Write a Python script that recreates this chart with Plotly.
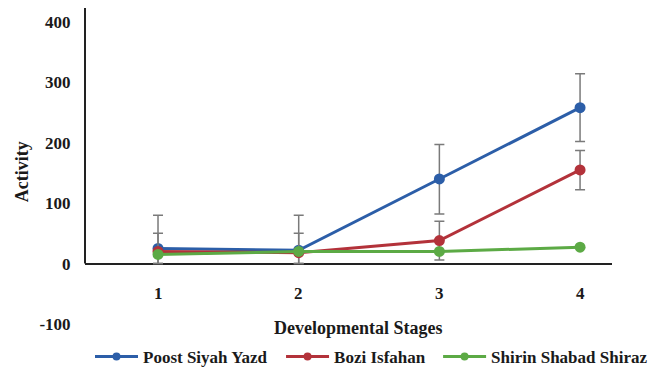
import plotly.graph_objects as go

stages = [1, 2, 3, 4]
stage_labels = ["1", "2", "3", "4"]
series_names = ["Poost Siyah Yazd", "Bozi Isfahan", "Shirin Shabad Shiraz"]
poost = [25, 22, 140, 258]
bozi = [20, 18, 38, 155]
shirin = [15, 20, 20, 27]
poost_err_plus = [55, 58, 57, 56]
poost_err_minus = [25, 22, 58, 56]
bozi_err_plus = [30, 32, 32, 32]
bozi_err_minus = [20, 18, 32, 33]
shirin_err = [0, 0, 0, 0]
y_ticks = [-100, 0, 100, 200, 300, 400]

colors = ["#2c5ea8", "#b3323a", "#5caa45"]
font_fam = "Liberation Serif"
fs = 17
legend_ids = ["legend", "legend2", "legend3"]
legend_x = [0.0095, 0.372, 0.670]

fig = go.Figure()
data = [
    (poost, poost_err_plus, poost_err_minus),
    (bozi, bozi_err_plus, bozi_err_minus),
    (shirin, shirin_err, shirin_err),
]
for name, (vals, ep, em), c in zip(series_names, data, colors):
    fig.add_trace(go.Scatter(
        x=stages, y=vals, name=name, mode="lines+markers", showlegend=False,
        line=dict(color=c, width=3),
        marker=dict(color=c, size=11),
        error_y=dict(type="data", array=ep, arrayminus=em, color="#7a7a7a",
                     thickness=1.5, width=5, visible=True),
    ))

# legend-only entries (smaller markers, like the reference legend)
for name, c, lid in zip(series_names, colors, legend_ids):
    fig.add_trace(go.Scatter(
        x=[None], y=[None], name="<b>%s</b>" % name, mode="lines+markers",
        line=dict(color=c, width=3), marker=dict(color=c, size=8),
        showlegend=True, legend=lid,
    ))

for xv, lab in zip(stages, stage_labels):
    fig.add_annotation(x=xv, y=-50, xref="x", yref="y", text="<b>%s</b>" % lab,
                       showarrow=False, font=dict(family=font_fam, size=fs, color="#1a1a1a"))

fig.add_annotation(x=0.518, xref="paper", y=-107, yref="y", yanchor="middle", xanchor="center",
                   text="<b>Developmental Stages</b>", showarrow=False,
                   font=dict(family=font_fam, size=18, color="#1a1a1a"))
fig.add_annotation(x=-0.1195, xref="paper", y=0.49, yref="paper", textangle=-90,
                   xanchor="center", yanchor="middle",
                   text="<b>Activity</b>", showarrow=False,
                   font=dict(family=font_fam, size=18, color="#1a1a1a"))

fig.add_shape(type="line", xref="paper", yref="y", x0=0, x1=0, y0=0, y1=430,
              line=dict(color="#222", width=2))

leg_common = dict(orientation="h", xanchor="left", y=-0.084, yanchor="middle",
                  font=dict(family=font_fam, size=fs, color="#1a1a1a"),
                  itemwidth=43, bgcolor="rgba(0,0,0,0)")

fig.update_layout(
    width=653, height=365,
    margin=dict(l=77, r=49, t=0, b=43, autoexpand=False),
    paper_bgcolor="white", plot_bgcolor="white",
    showlegend=True,
    legend=dict(x=legend_x[0], **leg_common),
    legend2=dict(x=legend_x[1], **leg_common),
    legend3=dict(x=legend_x[2], **leg_common),
    xaxis=dict(range=[0.481, 4.227], showgrid=False, zeroline=False, showline=False,
               showticklabels=False, ticks="", automargin=False),
    yaxis=dict(range=[-110, 423], tickvals=y_ticks, ticktext=["<b>%d</b>" % v for v in y_ticks],
               showgrid=False, zeroline=True, zerolinecolor="#222", zerolinewidth=2,
               showline=False, ticks="outside", ticklen=10, tickcolor="rgba(0,0,0,0)",
               automargin=False,
               tickfont=dict(family=font_fam, size=fs, color="#1a1a1a")),
)

fig.write_html("out.html")
